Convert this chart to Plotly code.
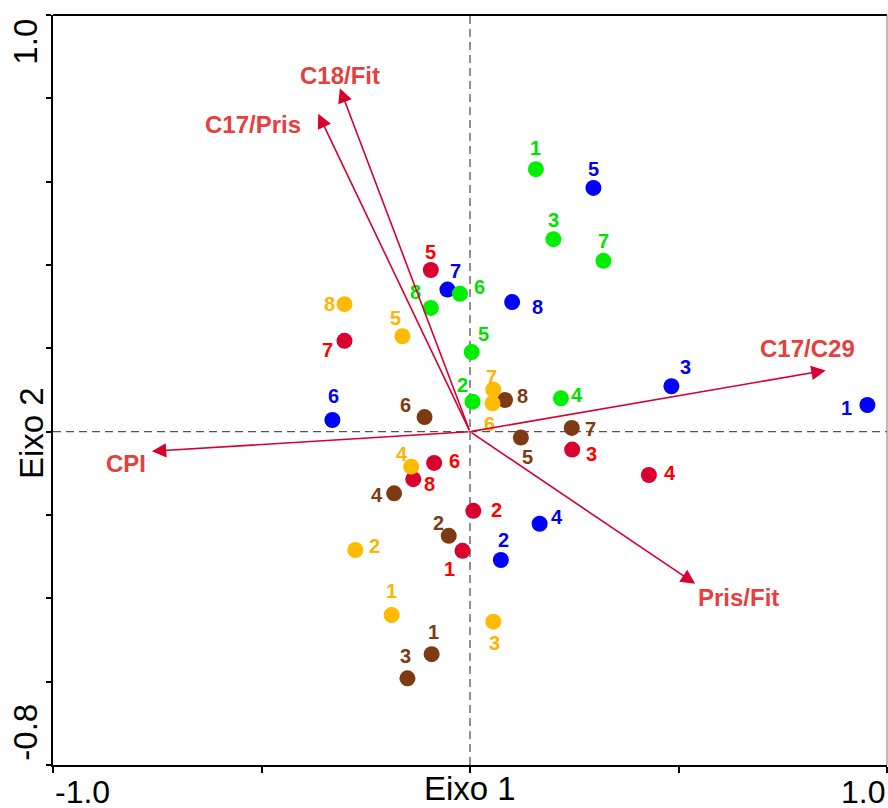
import plotly.graph_objects as go

# ---------------- data ----------------
point_labels = ['1', '2', '3', '4', '5', '6', '7', '8']

red_x = [-0.018, 0.008, 0.245, 0.429, -0.094, -0.086, -0.301, -0.136]
red_y = [-0.286, -0.190, -0.043, -0.104, 0.388, -0.075, 0.218, -0.114]

brown_x = [-0.092, -0.051, -0.150, -0.182, 0.122, -0.109, 0.244, 0.084]
brown_y = [-0.534, -0.250, -0.592, -0.148, -0.014, 0.035, 0.009, 0.076]

blue_x = [0.953, 0.074, 0.483, 0.167, 0.296, -0.330, -0.054, 0.101]
blue_y = [0.064, -0.308, 0.109, -0.221, 0.585, 0.028, 0.341, 0.311]

green_x = [0.158, 0.006, 0.200, 0.218, 0.004, -0.024, 0.320, -0.094]
green_y = [0.630, 0.072, 0.462, 0.080, 0.191, 0.331, 0.410, 0.297]

orange_x = [-0.188, -0.275, 0.056, -0.141, -0.162, 0.054, 0.056, -0.301]
orange_y = [-0.440, -0.284, -0.456, -0.084, 0.229, 0.068, 0.101, 0.306]

vec_names = ['C17/C29', 'CPI', 'Pris/Fit', 'C18/Fit', 'C17/Pris']
vec_x = [0.853, -0.763, 0.540, -0.312, -0.364]
vec_y = [0.147, -0.047, -0.365, 0.824, 0.763]

x_tick_text = ['-1.0', '1.0']
y_tick_text = ['1.0', '-0.8']
x_title = 'Eixo 1'
y_title = 'Eixo 2'

# ---------------- styles ----------------
FONT = 'Arial, Liberation Sans, sans-serif'

# label offsets in pixels (dx right, dy down)
red_off = [(-13, 18), (23, -1), (19, 4), (21, -2), (0, -18), (20, -2), (-17, 9), (16, 5)]
brown_off = [(2, -22), (-10, -13), (-2, -22), (-17, 2), (7, 19), (-19, -12), (19, 1), (17, -4)]
blue_off = [(-21, 3), (3, -20), (14, -19), (17, -7), (0, -19), (1, -24), (8, -19), (25, 5)]
green_off = [(0, -21), (-10, -17), (0, -19), (16, -3), (12, -18), (20, -7), (0, -20), (-15, -16)]
orange_off = [(0, -24), (19, -4), (1, 21), (-9, -13), (-7, -18), (-3, 21), (-2, -13), (-15, 0)]

series = [
    (red_x, red_y, '#DA0030', '#FF0000', red_off),
    (brown_x, brown_y, '#7E3A12', '#7E3A12', brown_off),
    (blue_x, blue_y, '#0000FF', '#0000F0', blue_off),
    (green_x, green_y, '#00EE00', '#00E000', green_off),
    (orange_x, orange_y, '#FFBB00', '#FFB400', orange_off),
]

vec_off = [(-18, -22), (-26, 12), (43, 14), (0, -13), (-65, 11)]
ARROW_COLOR = '#D8002E'
VEC_TEXT_COLOR = '#E5403E'

fig = go.Figure()
annotations = []

for xs, ys, mcol, tcol, offs in series:
    fig.add_trace(go.Scatter(
        x=xs, y=ys, mode='markers',
        marker=dict(size=16, color=mcol, line=dict(width=0)),
        showlegend=False, hoverinfo='skip'))
    for xv, yv, lab, (dx, dy) in zip(xs, ys, point_labels, offs):
        annotations.append(dict(
            x=xv, y=yv, xref='x', yref='y', text='<b>%s</b>' % lab,
            showarrow=False, xshift=dx, yshift=-dy,
            font=dict(family=FONT, size=20, color=tcol)))

for name, vx, vy, (dx, dy) in zip(vec_names, vec_x, vec_y, vec_off):
    annotations.append(dict(
        x=vx, y=vy, ax=0, ay=0, xref='x', yref='y', axref='x', ayref='y',
        text='', showarrow=True, arrowhead=2, arrowsize=1.8, arrowwidth=1.6,
        arrowcolor=ARROW_COLOR, standoff=0))
    annotations.append(dict(
        x=vx, y=vy, xref='x', yref='y', text='<b>%s</b>' % name,
        showarrow=False, xshift=dx, yshift=-dy,
        font=dict(family=FONT, size=24, color=VEC_TEXT_COLOR)))

# axis tick labels and titles (paper coords relative to plot area 53..887 x 15..765)
axis_font = dict(family=FONT, size=33, color='black')
tick_font = dict(family=FONT, size=32, color='black')
annotations += [
    dict(x=0, y=-0.036, xref='paper', yref='paper', text=x_tick_text[0],
         xanchor='left', yanchor='middle', showarrow=False, font=tick_font),
    dict(x=1.0, y=-0.036, xref='paper', yref='paper', text=x_tick_text[1],
         xanchor='right', yanchor='middle', showarrow=False, font=tick_font),
    dict(x=0.5, y=-0.031, xref='paper', yref='paper', text=x_title,
         xanchor='center', yanchor='middle', showarrow=False, font=axis_font),
    dict(x=-0.034, y=0.964, xref='paper', yref='paper', text=y_tick_text[0],
         textangle=-90, xanchor='center', yanchor='middle', showarrow=False, font=axis_font),
    dict(x=-0.034, y=0.044, xref='paper', yref='paper', text=y_tick_text[1],
         textangle=-90, xanchor='center', yanchor='middle', showarrow=False, font=axis_font),
    dict(x=-0.026, y=0.443, xref='paper', yref='paper', text=y_title,
         textangle=-90, xanchor='center', yanchor='middle', showarrow=False, font=axis_font),
]

shapes = [
    dict(type='line', xref='x', yref='paper', x0=0, x1=0, y0=0, y1=1,
         line=dict(color='#555555', width=1.3, dash='8px,5px'), layer='below'),
    dict(type='line', xref='paper', yref='y', x0=0, x1=1, y0=0, y1=0,
         line=dict(color='#555555', width=1.3, dash='8px,5px'), layer='below'),
    dict(type='line', xref='paper', yref='paper', x0=0, x1=1, y0=1, y1=1,
         line=dict(color='black', width=2)),
    dict(type='line', xref='paper', yref='paper', x0=1, x1=1, y0=0, y1=1,
         line=dict(color='#777777', width=1)),
]

fig.update_layout(
    width=888, height=808,
    margin=dict(l=53, r=1, t=15, b=43),
    paper_bgcolor='white', plot_bgcolor='white',
    annotations=annotations, shapes=shapes,
    xaxis=dict(range=[-1, 1], showgrid=False, zeroline=False, showline=True,
               linecolor='black', linewidth=2, ticks='outside', ticklen=6,
               tickwidth=2, tickcolor='black',
               tickvals=[-1, -0.5, 0, 0.5, 1], showticklabels=False),
    yaxis=dict(range=[-0.8, 1.0], showgrid=False, zeroline=False, showline=True,
               linecolor='black', linewidth=2, ticks='outside', ticklen=5,
               tickwidth=2, tickcolor='black',
               tickvals=[-0.8, -0.6, -0.4, -0.2, 0, 0.2, 0.4, 0.6, 0.8, 1.0],
               showticklabels=False),
)

# remove the default page margin so the figure fills the window exactly
fig.write_html('out.html',
               config={'displayModeBar': False},
               post_script="document.body.style.margin='0';"
                           "document.body.style.overflow='hidden';")
